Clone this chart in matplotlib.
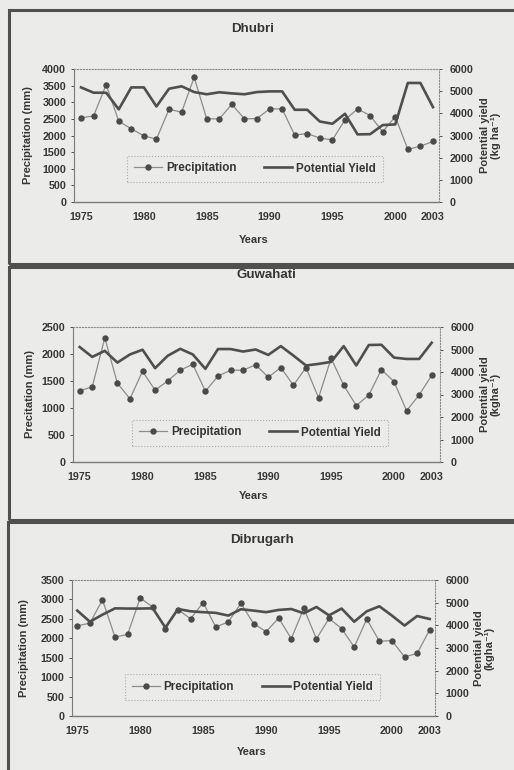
import matplotlib
matplotlib.use('Agg')
import matplotlib.pyplot as plt
from matplotlib.patches import Rectangle

# ---------------- data ----------------
years = list(range(1975, 2004))
x_ticks = [1975, 1980, 1985, 1990, 1995, 2000, 2003]
x_tick_labels = ['1975', '1980', '1985', '1990', '1995', '2000', '2003']

station_names = ['Dhubri', 'Guwahati', 'Dibrugarh']
left_labels = ['Precipitation (mm)', 'Precitation (mm)', 'Precipitation (mm)']
right_label_line1 = ['Potential yield', 'Potential yield', 'Potential yield']
right_label_line2 = ['(kg ha\u207b\u00b9)', '(kgha\u207b\u00b9)', '(kgha\u207b\u00b9)']
legend_labels = ['Precipitation', 'Potential Yield']
x_label = 'Years'

dhubri_precip = [2530, 2590, 3530, 2430, 2200, 1990, 1890, 2790, 2700, 3750,
                 2500, 2500, 2940, 2500, 2510, 2800, 2800, 2010, 2060, 1920,
                 1870, 2470, 2800, 2600, 2110, 2570, 1580, 1680, 1820]
dhubri_yield = [5170, 4930, 4930, 4180, 5170, 5170, 4310, 5110, 5220, 4960,
                4860, 4950, 4900, 4860, 4960, 4990, 4990, 4160, 4160, 3630,
                3530, 3980, 3050, 3060, 3470, 3500, 5370, 5370, 4280]

guwahati_precip = [1320, 1390, 2300, 1460, 1170, 1680, 1330, 1500, 1700, 1810,
                   1310, 1590, 1700, 1700, 1800, 1570, 1750, 1420, 1750, 1190,
                   1920, 1420, 1045, 1240, 1710, 1490, 950, 1240, 1605]
guwahati_yield = [5110, 4670, 4940, 4420, 4780, 4990, 4170, 4720, 5030, 4780,
                  4140, 5020, 5020, 4910, 5000, 4760, 5150, 4730, 4290, 4360,
                  4450, 5150, 4290, 5200, 5210, 4640, 4580, 4580, 5300]

dibrugarh_precip = [2320, 2390, 2990, 2030, 2100, 3040, 2800, 2250, 2740, 2500,
                    2920, 2290, 2420, 2900, 2380, 2170, 2520, 1990, 2770, 1985,
                    2510, 2250, 1775, 2495, 1925, 1940, 1520, 1610, 2220]
dibrugarh_yield = [4650, 4160, 4470, 4750, 4740, 4740, 4750, 3900, 4720, 4620,
                   4580, 4550, 4430, 4710, 4650, 4580, 4680, 4720, 4530, 4810,
                   4440, 4740, 4160, 4620, 4840, 4430, 3990, 4410, 4280]

precip_series = [dhubri_precip, guwahati_precip, dibrugarh_precip]
yield_series = [dhubri_yield, guwahati_yield, dibrugarh_yield]
left_max = [4000, 2500, 3500]
right_max = 6000

# ---------------- layout (pixels) ----------------
W, H = 514, 770
layout = [
    dict(plot=(74, 69, 439, 202), xlim=(1974.44, 2003.48), title=(253, 29),
         ylab_x=28, rlab_x=(485, 496), years=(254, 240),
         legend=(127, 155, 383, 182), frame=(9, 10, 540, 264)),
    dict(plot=(73, 327, 440, 462), xlim=(1974.47, 2003.66), title=(266, 275),
         ylab_x=30, rlab_x=(485, 495), years=(254, 496),
         legend=(128, 420, 392, 445), frame=(9, 267, 540, 520)),
    dict(plot=(72, 580, 435, 716), xlim=(1974.58, 2003.42), title=(262, 540),
         ylab_x=24, rlab_x=(479, 489), years=(252, 752),
         legend=(132, 675, 373, 699), frame=(8, 522, 540, 790)),
]

plt.rcParams['font.family'] = ['Liberation Sans', 'DejaVu Sans']
plt.rcParams['font.weight'] = 'bold'
plt.rcParams['axes.labelweight'] = 'bold'

bg = '#ebebe9'
txt = '#363636'
fig = plt.figure(figsize=(W / 100, H / 100), dpi=100)
fig.patch.set_facecolor(bg)


def fx(px):
    return px / W


def fy(py):
    return 1 - py / H


for i in range(3):
    L = layout[i]
    l, t, r, b = L['plot']
    ax = fig.add_axes([fx(l), fy(b), (r - l) / W, (b - t) / H])
    ax.set_facecolor('none')
    ax2 = ax.twinx()

    lp, = ax.plot(years, precip_series[i], color='#8c8c8c', lw=0.9,
                  marker='o', markersize=3.6, mfc='#4a4a4a', mec='#4a4a4a',
                  zorder=3)
    ly, = ax2.plot(years, yield_series[i], color='#4f4f4f', lw=1.9, zorder=2)

    ax.set_xlim(*L['xlim'])
    ax.set_ylim(0, left_max[i])
    ax2.set_ylim(0, right_max)
    ax.set_yticks(range(0, left_max[i] + 1, 500))
    ax2.set_yticks(range(0, right_max + 1, 1000))
    ax.set_xticks(x_ticks)
    ax.set_xticklabels(x_tick_labels)

    ax.tick_params(axis='x', length=0, pad=7, labelsize=7.7, colors=txt)
    ax.tick_params(axis='y', length=2.5, width=0.6, pad=3, labelsize=7.7,
                   colors=txt, direction='out')
    ax2.tick_params(axis='y', length=2.5, width=0.6, pad=5, labelsize=7.7,
                    colors=txt, direction='out')

    for sp in ['top', 'right']:
        ax.spines[sp].set_visible(False)
    ax.spines['left'].set_color('#7a7a7a')
    ax.spines['left'].set_linewidth(0.8)
    ax.spines['bottom'].set_color('#7a7a7a')
    ax.spines['bottom'].set_linewidth(1.0)
    for sp in ['left', 'bottom']:
        ax2.spines[sp].set_visible(False)
    ax2.spines['top'].set_linestyle(':')
    ax2.spines['top'].set_color('#8a8a8a')
    ax2.spines['top'].set_linewidth(0.8)
    ax2.spines['right'].set_linestyle(':')
    ax2.spines['right'].set_color('#8a8a8a')
    ax2.spines['right'].set_linewidth(0.8)

    ll, lt, lr, lb = L['legend']
    leg = ax2.legend([lp, ly], legend_labels, loc='center',
                     bbox_to_anchor=(fx((ll + lr) / 2), fy((lt + lb) / 2)),
                     bbox_transform=fig.transFigure, ncol=2, fontsize=8.4,
                     handlelength=2.4, columnspacing=2.4, handletextpad=0.3,
                     borderpad=0.6, borderaxespad=0, frameon=True,
                     fancybox=False)
    fr = leg.get_frame()
    fr.set_facecolor(bg)
    fr.set_edgecolor('#9a9a9a')
    fr.set_linestyle(':')
    fr.set_linewidth(0.8)
    for tx in leg.get_texts():
        tx.set_color(txt)

    tx_, ty_ = L['title']
    fig.text(fx(tx_), fy(ty_), station_names[i], ha='center', va='center',
             fontsize=9.6, color=txt)
    cy = (t + b) / 2
    fig.text(fx(L['ylab_x']), fy(cy), left_labels[i], rotation=90,
             ha='center', va='center', fontsize=8, color=txt)
    fig.text(fx(L['rlab_x'][0]), fy(cy), right_label_line1[i], rotation=90,
             ha='center', va='center', fontsize=8, color=txt)
    fig.text(fx(L['rlab_x'][1]), fy(cy), right_label_line2[i], rotation=90,
             ha='center', va='center', fontsize=8, color=txt)
    yx, yy = L['years']
    fig.text(fx(yx), fy(yy), x_label, ha='center', va='center',
             fontsize=8, color=txt)

    fl, ft, frr, fb = L['frame']
    fig.add_artist(Rectangle((fx(fl), fy(fb)), (frr - fl) / W, (fb - ft) / H,
                             transform=fig.transFigure, fill=False,
                             ec='#505050', lw=2.2))

fig.savefig('out.png', dpi=100, facecolor=bg)
